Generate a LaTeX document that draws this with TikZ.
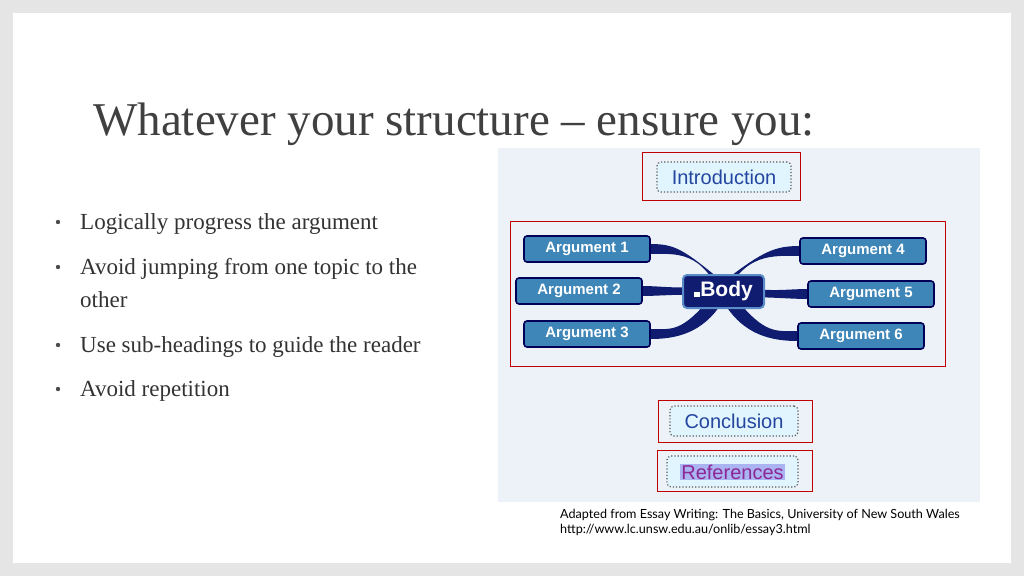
\documentclass[tikz,border=0pt]{standalone}
\usepackage{fontspec}
\setmainfont{Liberation Serif}
\newfontfamily\argfont{Liberation Sans}
\newfontfamily\capfont{Lato}
\definecolor{argfill}{RGB}{63,134,184}
\definecolor{navy}{RGB}{16,28,112}
\definecolor{bodyedge}{RGB}{90,140,200}
\definecolor{diagbg}{RGB}{236,242,248}
\definecolor{txtblue}{RGB}{36,70,160}
\definecolor{hil}{RGB}{170,180,240}
\definecolor{purp}{RGB}{140,40,150}
\begin{document}
\begin{tikzpicture}[x=1pt,y=-1pt,
  redbox/.style={draw=red!75!black,line width=0.9pt},
  dotbox/.style={draw=black!65,dotted,line width=1.2pt,rounded corners=4pt,fill=cyan!12},
  argbox/.style={draw=blue!35!black,line width=1.6pt,rounded corners=3pt,fill=argfill,text=white,font=\argfont\bfseries\fontsize{15}{15}\selectfont,minimum width=126pt,minimum height=26pt},
  arm/.style={fill=navy},
  bul/.style={anchor=base west,font=\fontsize{23}{23}\selectfont,text=black!80}]
\fill[black!10] (0,0) rectangle (1024,576);
\fill[white] (13,13) rectangle (1011,563);
\useasboundingbox (0,0) rectangle (1024,576);
\node[anchor=base west,inner sep=0pt,font=\fontsize{47}{47}\selectfont,text=black!75] (title) at (93,135) {Whatever your structure -- ensure you:};
\foreach \y/\t [count=\i] in {229/Logically progress the argument,274/Avoid jumping from one topic to the,352/Use sub-headings to guide the reader,396/Avoid repetition}{
  \node[bul,inner sep=0pt] (b\i) at (80,\y) {\t};
  \fill[black!70] (58,\y-7) circle (2.2pt);
}
\node[bul,inner sep=0pt] (b2b) at (80,307) {other};
\fill[diagbg] (498,148) rectangle (980,502);
\draw[redbox] (642,152) rectangle (800,200);
\node[dotbox,minimum width=134pt,minimum height=30pt,text=txtblue,font=\argfont\fontsize{20}{20}\selectfont] (intro) at (724,177) {Introduction};
\draw[redbox] (510,221) rectangle (945,366);
\foreach \ax/\ay/\sx in {650/249/-1,642/291/-1,650/334/-1,800/251/1,808/294/1,798/336/1}{
  \fill[arm] (723,282) .. controls (723+\sx*40,\ay) and (\ax-\sx*25,\ay-5) .. (\ax,\ay-5) -- (\ax,\ay+5) .. controls (\ax-\sx*25,\ay+5) and (723+\sx*20,\ay) .. (723,301) -- cycle;
}
\node[draw=bodyedge,line width=2pt,rounded corners=4pt,fill=navy,minimum width=81pt,minimum height=33pt,text=white,font=\argfont\bfseries\fontsize{21}{21}\selectfont] (body) at (723.5,291.5) {\rule{6pt}{5pt}Body};
\node[argbox] (a1) at (587,249) {Argument 1};
\node[argbox] (a2) at (579,291) {Argument 2};
\node[argbox] (a3) at (587,334) {Argument 3};
\node[argbox] (a4) at (863,251) {Argument 4};
\node[argbox] (a5) at (871,294) {Argument 5};
\node[argbox] (a6) at (861,336) {Argument 6};
\draw[redbox] (658,400) rectangle (812,442);
\node[dotbox,minimum width=128pt,minimum height=30pt,text=txtblue,font=\argfont\fontsize{20}{20}\selectfont] (concl) at (734,421) {Conclusion};
\draw[redbox] (657,450) rectangle (812,491);
\node[dotbox,minimum width=131pt,minimum height=31pt] (refbox) at (732.5,471.5) {};
\node[fill=hil,inner sep=1pt,text=purp,font=\argfont\fontsize{20}{20}\selectfont] (refs) at (732.5,472) {References};
\node[anchor=base west,inner sep=0pt,font=\capfont\fontsize{12.6}{12.6}\selectfont] (cap1) at (560,518) {Adapted from Essay Writing: The Basics, University of New South Wales};
\node[anchor=base west,inner sep=0pt,font=\capfont\fontsize{12.6}{12.6}\selectfont] (cap2) at (560,533) {http://www.lc.unsw.edu.au/onlib/essay3.html};
\end{tikzpicture}
\end{document}
